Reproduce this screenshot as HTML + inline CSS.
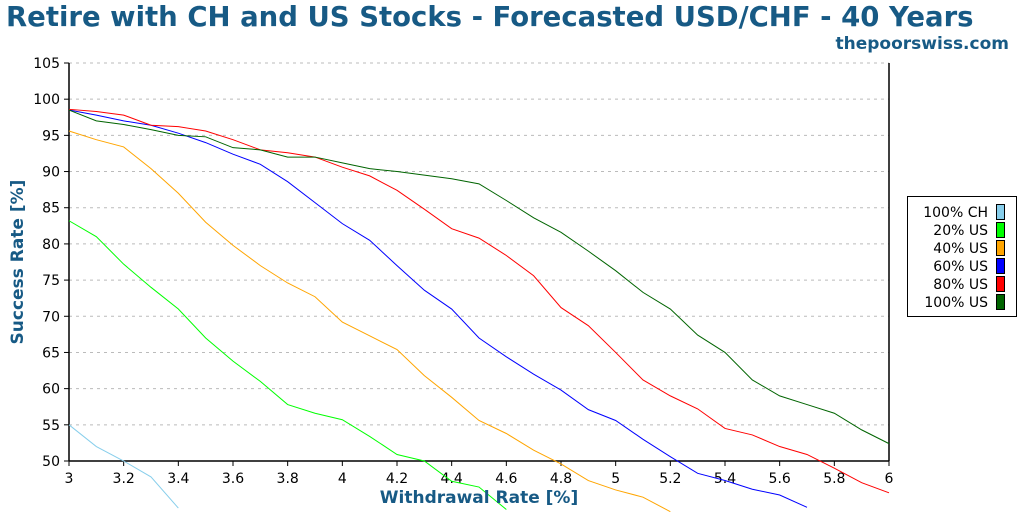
<!DOCTYPE html>
<html><head><meta charset="utf-8"><style>
html,body{margin:0;padding:0;background:#fff;}
svg{display:block;font-family:"DejaVu Sans","Liberation Sans",sans-serif;}
</style></head><body>
<svg id="chart" width="1024" height="512" xmlns="http://www.w3.org/2000/svg">
<text x="6" y="26" font-size="27.5" font-weight="bold" fill="#175a85">Retire with CH and US Stocks - Forecasted USD/CHF - 40 Years</text>
<text x="1009" y="49" font-size="17" font-weight="bold" fill="#175a85" text-anchor="end">thepoorswiss.com</text>
<g id="grid"></g>
<g id="yaxis"></g>
<g id="xaxis"></g>
<g id="series"></g>
<text transform="translate(23,262) rotate(-90)" font-size="17" font-weight="bold" fill="#175a85" text-anchor="middle">Success Rate [%]</text>
<text x="479" y="503" font-size="17" font-weight="bold" fill="#175a85" text-anchor="middle">Withdrawal Rate [%]</text>
<g id="legend"></g>
</svg>
<script>
const xTicks = [3,3.2,3.4,3.6,3.8,4,4.2,4.4,4.6,4.8,5,5.2,5.4,5.6,5.8,6];
const xTickLabels = ["3","3.2","3.4","3.6","3.8","4","4.2","4.4","4.6","4.8","5","5.2","5.4","5.6","5.8","6"];
const yTicks = [50,55,60,65,70,75,80,85,90,95,100,105];
const seriesNames = ["100% CH","20% US","40% US","60% US","80% US","100% US"];
const seriesColors = ["#87ceeb","#00ff00","#ffa500","#0000ff","#ff0000","#006400"];
const ch100 = [55,52,50,47.8,43.5];
const us20 = [83.2,81,77.2,74,71,67,63.8,61,57.8,56.6,55.7,53.4,50.9,50,47.2,46.4,43.3];
const us40 = [95.6,94.4,93.4,90.4,87,83,79.8,77,74.6,72.7,69.2,67.3,65.4,61.8,58.8,55.6,53.8,51.5,49.6,47.3,46,45,43];
const us60 = [98.5,97.8,97,96.4,95.3,94,92.4,91,88.6,85.7,82.8,80.5,77,73.6,71,67,64.4,62,59.8,57.1,55.6,53,50.6,48.3,47.3,46.1,45.3,43.6];
const us80 = [98.6,98.3,97.8,96.4,96.2,95.6,94.4,93,92.6,92,90.6,89.4,87.4,84.8,82.1,80.8,78.4,75.6,71.2,68.7,65,61.2,59,57.2,54.5,53.6,52,50.9,49,47,45.6];
const us100 = [98.5,97,96.5,95.8,95,94.8,93.3,93,92,92,91.2,90.4,90,89.5,89,88.3,86,83.6,81.6,79,76.3,73.3,71,67.4,65,61.2,59,57.8,56.6,54.3,52.4];
const xStart = 3, xStep = 0.1;

const NS="http://www.w3.org/2000/svg";
const L=69,R=889,T=63,B=461;
const xs=v=>L+(v-3)/(6-3)*(R-L);
const ys=v=>B-(v-50)/(105-50)*(B-T);
function mk(tag,parent){const e=document.createElementNS(NS,tag);document.getElementById(parent).appendChild(e);return e;}

yTicks.forEach(t=>{
  if(t>50){
    const g=mk('line','grid');
    
    
    g.setAttribute('x1',L);g.setAttribute('x2',R);g.setAttribute('y1',ys(t));g.setAttribute('y2',ys(t));
    g.setAttribute('stroke','#bbb');g.setAttribute('stroke-dasharray','3,4');
  }
  const tk=mk('line','yaxis');
  
  
  tk.setAttribute('x1',L-5);tk.setAttribute('x2',L);tk.setAttribute('y1',ys(t));tk.setAttribute('y2',ys(t));tk.setAttribute('stroke','#000');
  const lb=mk('text','yaxis');
  
  
  lb.setAttribute('x',L-9);lb.setAttribute('y',ys(t)+5);lb.setAttribute('text-anchor','end');lb.setAttribute('font-size','14');
  lb.textContent=t;
});
xTicks.forEach((t,i)=>{
  const tk=mk('line','xaxis');
  
  
  tk.setAttribute('x1',xs(t));tk.setAttribute('x2',xs(t));tk.setAttribute('y1',B);tk.setAttribute('y2',B+5);tk.setAttribute('stroke','#000');
  const lb=mk('text','xaxis');
  
  
  lb.setAttribute('x',xs(t));lb.setAttribute('y',B+22);lb.setAttribute('text-anchor','middle');lb.setAttribute('font-size','14');
  lb.textContent=xTickLabels[i];
});
[[L,T,L,B],[L,B,R,B],[R,T,R,B]].forEach(a=>{
  const ln=mk('line','xaxis');
  
  
  ln.setAttribute('x1',a[0]);ln.setAttribute('y1',a[1]);ln.setAttribute('x2',a[2]);ln.setAttribute('y2',a[3]);
  ln.setAttribute('stroke','#000');ln.setAttribute('stroke-width','1.5');
});
const allSeries=[ch100,us20,us40,us60,us80,us100];
allSeries.forEach((d,si)=>{
  const p=mk('polyline','series');
  
  
  p.setAttribute('points',d.map((v,i)=>xs(xStart+i*xStep)+','+ys(v)).join(' '));
  p.setAttribute('fill','none');p.setAttribute('stroke',seriesColors[si]);p.setAttribute('stroke-width','1');
});
const lbox=mk('rect','legend');


lbox.setAttribute('x',907.5);lbox.setAttribute('y',196.5);lbox.setAttribute('width',109);lbox.setAttribute('height',120);
lbox.setAttribute('fill','#fff');lbox.setAttribute('stroke','#000');
seriesNames.forEach((n,i)=>{
  const y=204+i*18;
  const t=mk('text','legend');
  
  
  t.setAttribute('x',988);t.setAttribute('y',y+13);t.setAttribute('text-anchor','end');t.setAttribute('font-size','14');
  t.textContent=n;
  const s=mk('rect','legend');
  
  
  s.setAttribute('x',996.5);s.setAttribute('y',y+0.5);s.setAttribute('width',8);s.setAttribute('height',15);
  s.setAttribute('fill',seriesColors[i]);s.setAttribute('stroke','#000');
});
</script>
</body></html>
